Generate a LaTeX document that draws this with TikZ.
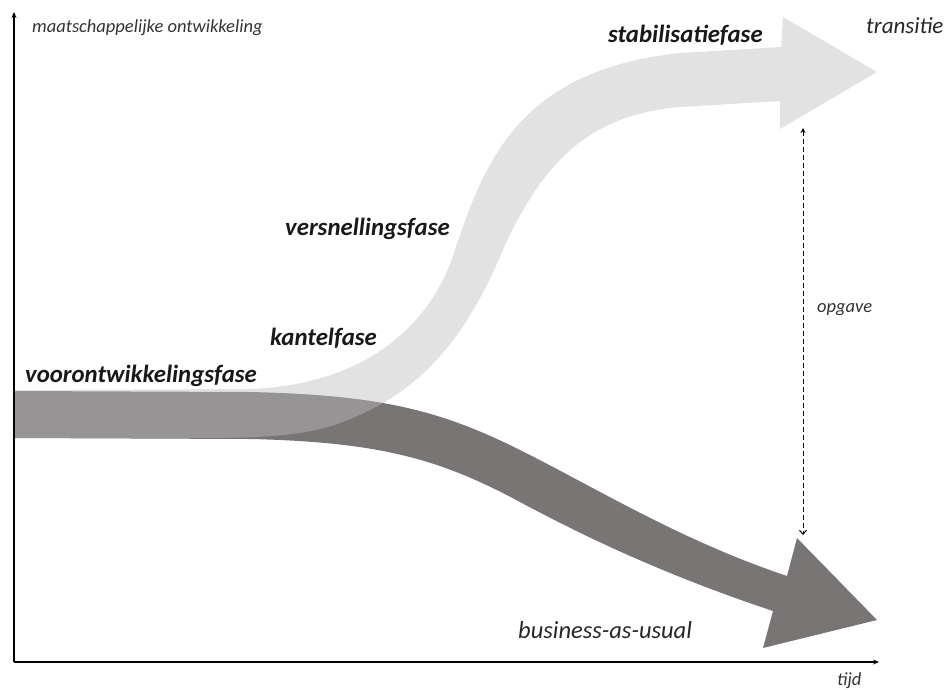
\documentclass[tikz,border=0pt]{standalone}
\usepackage{fontspec}
\setmainfont{Carlito}
\usetikzlibrary{arrows.meta}
\definecolor{darkband}{RGB}{122,117,117}
\definecolor{lightband}{RGB}{188,188,188}
\tikzset{
  phase/.style={font=\fontsize{24.8}{25}\selectfont\bfseries\itshape, inner sep=0pt, anchor=base west, text=black!90},
  lbl/.style={font=\fontsize{24.5}{25}\selectfont\itshape, inner sep=0pt, anchor=base west, text=black!85},
  small/.style={font=\fontsize{18.5}{19}\selectfont\itshape, inner sep=0pt, anchor=base west, text=black!80},
  axis/.style={line width=1.4pt, -{Stealth[length=6pt,width=5pt]}},
  gap/.style={line width=1pt, dash pattern=on 5pt off 3pt, {Stealth[length=5pt,width=5pt]}-{Straight Barb[length=4pt,width=7pt]}}
}
\begin{document}
\begin{tikzpicture}[x=1pt,y=-1pt]
\useasboundingbox (0,0) rectangle (951,689);
% business-as-usual arrow
\fill[darkband] (14,391) -- (250,392) .. controls (380,395) and (440,410) .. (520,450)
  .. controls (600,490) and (680,540) .. (787,576)
  -- (797,538) -- (877,620) -- (763,648) -- (773,611)
  .. controls (680,580) and (600,545) .. (520,502)
  .. controls (440,459) and (380,442) .. (250,439)
  -- (14,438) -- cycle;
% transition arrow
\fill[lightband, fill opacity=0.44] (14,390) -- (250,389)
  .. controls (360,385) and (430,330) .. (455,250)
  .. controls (485,160) and (520,70) .. (680,53)
  -- (781,47) -- (783,17) -- (877,72) -- (780,129) -- (780,101) -- (680,107)
  .. controls (590,115) and (545,160) .. (505,245)
  .. controls (470,330) and (430,380) .. (370,410)
  .. controls (330,430) and (300,437) .. (220,438)
  -- (14,438) -- cycle;
% axes
\coordinate (O) at (14,662);
\coordinate (ytop) at (14,12);
\coordinate (xend) at (879,662);
\draw[axis] (O) -- (ytop);
\draw[axis] (O) -- (xend);
% gap arrow
\coordinate (gtop) at (803,128);
\coordinate (gbot) at (803,535);
\draw[gap] (gtop) -- (gbot);
% labels
\node[small] (ylab) at (32,32) {maatschappelijke ontwikkeling};
\node[small] (xlab) at (837,685) {tijd};
\node[small] (opg) at (817,312) {opgave};
\node[phase] (stab) at (608,42) {stabilisatiefase};
\node[lbl, font=\fontsize{23}{23}\selectfont\itshape] (trans) at (866,33) {transitie};
\node[phase] (vers) at (285,235) {versnellingsfase};
\node[phase] (kant) at (270,345) {kantelfase};
\node[phase] (voor) at (25,382) {voorontwikkelingsfase};
\node[lbl] (bau) at (518,638) {business-as-usual};
\end{tikzpicture}
\end{document}
